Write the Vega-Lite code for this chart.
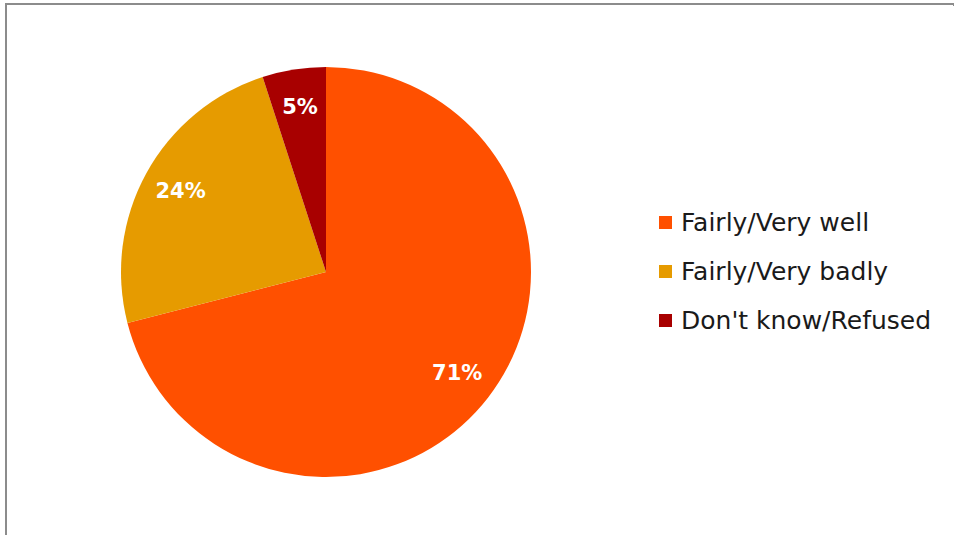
{
  "$schema": "https://vega.github.io/schema/vega-lite/v6.json",
  "autosize": "none",
  "width": 948,
  "height": 531,
  "padding": {"left": 6, "top": 4, "right": 0, "bottom": 0},
  "background": "white",
  "view": {"stroke": "#8c8c8c", "strokeWidth": 2, "strokeDash": [950, 1477, 533, 0]},
  "config": {
    "font": "DejaVu Sans"
  },
  "data": {
    "values": [
      {"category": "Fairly/Very well", "value": 71, "label": "71%", "order": 1},
      {"category": "Fairly/Very badly", "value": 24, "label": "24%", "order": 2},
      {"category": "Don't know/Refused", "value": 5, "label": "5%", "order": 3}
    ]
  },
  "encoding": {
    "theta": {"field": "value", "type": "quantitative", "stack": true},
    "order": {"field": "order", "type": "quantitative", "sort": "ascending"}
  },
  "layer": [
    {
      "mark": {"type": "arc", "x": 320, "y": 268, "outerRadius": 205},
      "encoding": {
        "color": {
          "field": "category",
          "type": "nominal",
          "sort": ["Fairly/Very well", "Fairly/Very badly", "Don't know/Refused"],
          "scale": {
            "domain": ["Fairly/Very well", "Fairly/Very badly", "Don't know/Refused"],
            "range": ["#FF5000", "#E69B00", "#A80000"]
          },
          "legend": {
            "title": null,
            "orient": "none",
            "legendX": 647,
            "legendY": 206,
            "symbolType": "square",
            "symbolSize": 170,
            "symbolStrokeWidth": 0,
            "labelFontSize": 25,
            "labelColor": "#1a1a1a",
            "labelFont": "DejaVu Sans",
            "rowPadding": 23,
            "labelOffset": 3,
            "labelLimit": 400
          }
        }
      }
    },
    {
      "mark": {"type": "text", "x": 320, "y": 268, "radius": 166, "fontSize": 21, "fontWeight": "bold", "color": "white", "font": "DejaVu Sans"},
      "encoding": {
        "text": {"field": "label", "type": "nominal"}
      }
    }
  ]
}
